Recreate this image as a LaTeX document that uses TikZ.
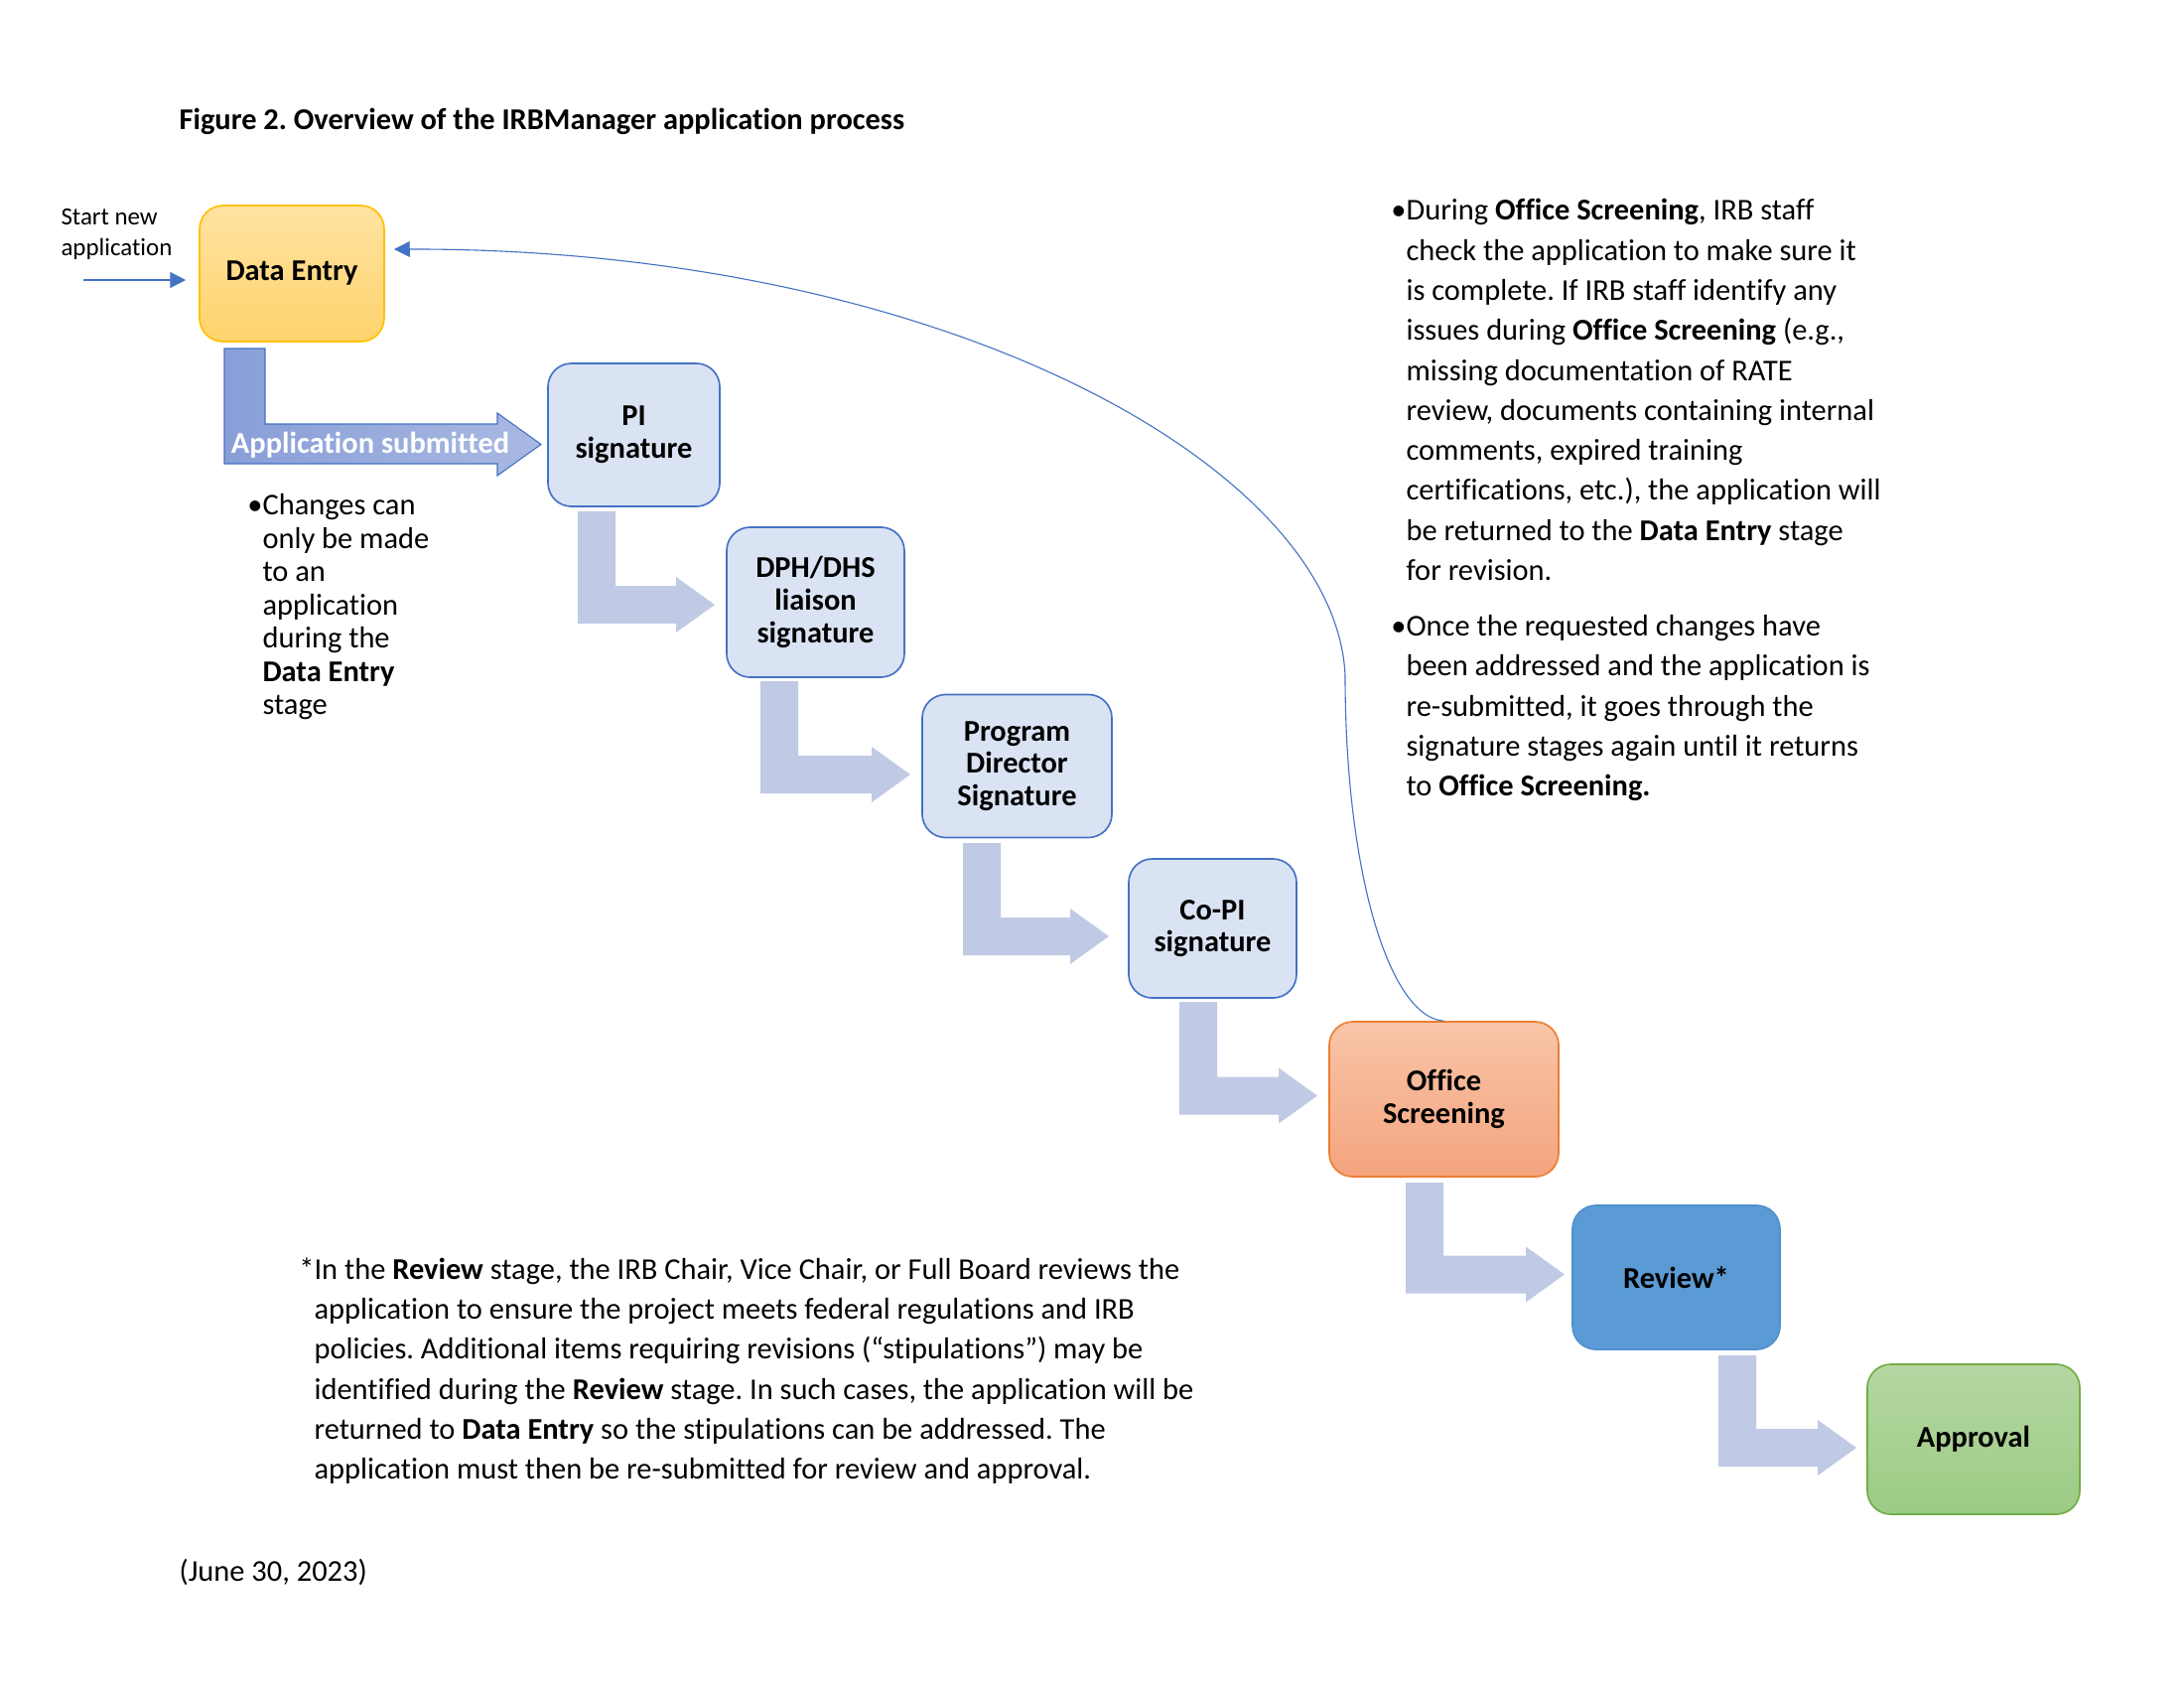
\documentclass[tikz,border=0pt]{standalone}
\usepackage{fontspec}
\setmainfont{Carlito}[Ligatures = NoCommon]
\usepackage{tikz}
\usetikzlibrary{arrows.meta}
\frenchspacing

\definecolor{EntryTop}{HTML}{FFE3A2}
\definecolor{EntryBottom}{HTML}{FFD36C}
\definecolor{EntryEdge}{HTML}{FFC000}
\definecolor{SigFill}{HTML}{DAE3F3}
\definecolor{SigEdge}{HTML}{4472C4}
\definecolor{StepArrow}{HTML}{C0CAE5}
\definecolor{SubmitLeft}{HTML}{889ED7}
\definecolor{SubmitRight}{HTML}{A9B9E2}
\definecolor{ScreenTop}{HTML}{F8C5A8}
\definecolor{ScreenBottom}{HTML}{F4A47E}
\definecolor{ScreenEdge}{HTML}{ED7D31}
\definecolor{ReviewFill}{HTML}{5B9BD5}
\definecolor{ReviewEdge}{HTML}{4F8FCF}
\definecolor{ApproveTop}{HTML}{B5D7A2}
\definecolor{ApproveBottom}{HTML}{9CCB84}
\definecolor{ApproveEdge}{HTML}{70AD47}

\begin{document}
\begin{tikzpicture}[x = 0.127mm, y = -0.127mm,
    stage/.style = {rounded corners = 3mm, line width = 0.6pt, align = center, inner sep = 0pt,
        font = \bfseries\fontsize{11}{11.85}\selectfont},
    sig/.style = {stage, fill = SigFill, draw = SigEdge},
    note/.style = {anchor = north west, align = left, inner sep = 0pt, font = \fontsize{11}{14.56}\selectfont},
    flow/.style = {SigEdge, line width = 0.5pt, -{Triangle[length = 2mm, width = 2mm]}}]
    \path [use as bounding box, fill = white] (0, 0) rectangle (2200, 1700);

    \node [anchor = base west, inner sep = 0pt, font = \bfseries\fontsize{11}{13}\selectfont] (title) at (180, 130) {Figure 2. Overview of the IRBManager application process};

    \node [stage, draw = EntryEdge, top color = EntryTop, bottom color = EntryBottom, minimum width = 23.62mm, minimum height = 17.40mm] (entry) at (294, 275.5) {Data Entry};
    \node [sig, minimum width = 21.97mm, minimum height = 18.29mm] (pi) at (638.5, 438) {PI\\signature};
    \node [sig, minimum width = 22.73mm, minimum height = 19.18mm] (liaison) at (821.5, 606.5) {DPH/DHS\\liaison\\signature};
    \node [sig, minimum width = 24.26mm, minimum height = 18.29mm] (director) at (1024.5, 771.5) {Program\\Director\\Signature};
    \node [sig, minimum width = 21.46mm, minimum height = 17.78mm] (copi) at (1221.5, 935) {Co-PI\\signature};
    \node [stage, draw = ScreenEdge, top color = ScreenTop, bottom color = ScreenBottom, minimum width = 29.34mm, minimum height = 19.81mm] (screening) at (1454.5, 1107) {Office\\Screening};
    \node [stage, fill = ReviewFill, draw = ReviewEdge, minimum width = 26.54mm, minimum height = 18.42mm] (review) at (1688.5, 1286.5) {Review*};
    \node [stage, draw = ApproveEdge, top color = ApproveTop, bottom color = ApproveBottom, minimum width = 27.18mm, minimum height = 19.18mm] (approval) at (1988, 1449.5) {Approval};

    \node [note, font = \fontsize{9}{11.2}\selectfont] (new) at (61, 210) {Start new\\application};
    \coordinate (begin) at (84, 282);
    \draw [flow, line width = 0.6pt, shorten > = 1.65mm] (begin) -- (begin -| entry.west);

    \path [left color = SubmitLeft, right color = SubmitRight, draw = SigEdge, line width = 0.4pt] (226, 351) -- (267, 351) -- (267, 427) -- (501, 427) -- (501, 416) -- (545, 447.5) -- (501, 479) -- (501, 467) -- (226, 467) -- cycle;
    \node [white, font = \bfseries\fontsize{11}{13}\selectfont] (submitted) at (373, 448) {Application submitted};

    \foreach \i\j\k\n in {582/515/609/720, 766/686/780/917, 970/849/943/1117, 1188/1009/1103.5/1327, 1416/1191/1283.5/1576, 1731/1365/1458/1870} {
        \fill [StepArrow] (\i, \j) -- (\i + 38, \j) -- (\i + 38, \k - 19) -- (\n - 39, \k - 19) -- (\n - 39, \k - 28) -- (\n, \k) -- (\n - 39, \k + 28) -- (\n - 39, \k + 19) -- (\i, \k + 19) -- cycle;
    }

    \coordinate (back) at (397, 251);
    \draw [flow, line width = 0.4pt] (screening.north) .. controls (1400, 1025) and (1355, 880) .. (1355, 680) .. controls (1345, 470) and (950, 250) .. (back);

    \node [note, font = \fontsize{11}{12.1}\selectfont] (changes) at (264, 497) {\llap{•}Changes can\\only be made\\to an\\application\\during the\\\textbf{Data Entry}\\stage};

    \node [note] (screenfirst) at (1416, 200) {\llap{•}During \textbf{Office Screening}, IRB staff\\check the application to make sure it\\is complete. If IRB staff identify any\\issues during \textbf{Office Screening} (e.g.,\\missing documentation of RATE\\review, documents containing internal\\comments, expired training\\certifications, etc.), the application will\\be returned to the \textbf{Data Entry} stage\\for revision.};
    \node [note] (screensecond) at (1416, 619) {\llap{•}Once the requested changes have\\been addressed and the application is\\re-submitted, it goes through the\\signature stages again until it returns\\to \textbf{Office Screening.}};

    \node [note] (reviewnote) at (316, 1266) {\llap{*}In the \textbf{Review} stage, the IRB Chair, Vice Chair, or Full Board reviews the\\application to ensure the project meets federal regulations and IRB\\policies. Additional items requiring revisions (“stipulations”) may be\\identified during the \textbf{Review} stage. In such cases, the application will be\\returned to \textbf{Data Entry} so the stipulations can be addressed. The\\application must then be re-submitted for review and approval.};

    \node [anchor = base west, inner sep = 0pt, font = \fontsize{11}{13}\selectfont] (date) at (180, 1592) {(June 30, 2023)};
\end{tikzpicture}
\end{document}
